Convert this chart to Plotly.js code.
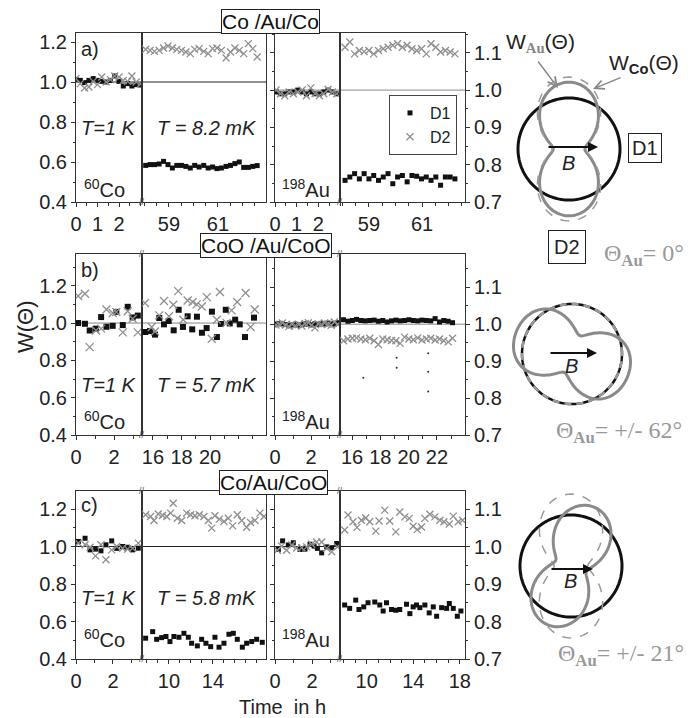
<!DOCTYPE html>
<html>
<head>
<meta charset="utf-8">
<script src="https://cdn.plot.ly/plotly-3.0.1.min.js"></script>
<style>html,body{margin:0;padding:0;background:#fff;}#chart{width:697px;height:718px;}</style>
</head>
<body>
<div id="chart"></div>
<script>
// ================= DATA =================
// ---- row a) Co /Au/Co ----
const aCo1K_t  = [0,0.2,0.4,0.6,0.8,1.0,1.2,1.4,1.6,1.8,2.0,2.2,2.4,2.6,2.8,3.0];
const aCo1K_D1 = [1.013,1.008,0.997,1.008,1.017,1.008,1.003,1.0,1.008,1.03,1.003,0.98,0.992,0.98,0.987,0.985];
const aCo1K_D2 = [1.017,0.992,0.97,0.975,1.003,0.987,1.025,1.0,1.012,1.03,1.025,1.008,1.003,1.03,1.0,0.99];
const aComK_t  = [58.05,58.23,58.41,58.6,58.78,58.96,59.14,59.32,59.51,59.69,59.87,60.05,60.23,60.42,60.6,60.78,60.96,61.14,61.33,61.51,61.69,61.87,62.05,62.24,62.42,62.6];
const aComK_D1 = [0.583,0.587,0.587,0.59,0.603,0.587,0.57,0.583,0.583,0.578,0.57,0.583,0.575,0.583,0.57,0.575,0.567,0.57,0.578,0.583,0.592,0.6,0.573,0.573,0.578,0.582];
const aComK_D2 = [1.163,1.158,1.153,1.158,1.17,1.18,1.17,1.163,1.158,1.15,1.142,1.163,1.167,1.153,1.142,1.167,1.17,1.158,1.12,1.15,1.17,1.158,1.142,1.192,1.167,1.125];
const aAu1K_t  = [0.05,0.25,0.45,0.65,0.85,1.05,1.25,1.45,1.65,1.85,2.05,2.25,2.45,2.65,2.85];
const aAu1K_D1 = [0.995,0.99,0.99,0.995,0.995,1.0,0.995,0.99,0.995,0.99,0.99,0.995,1.0,0.995,0.99];
const aAu1K_D2 = [1.0,0.99,0.985,0.995,0.99,0.995,1.0,0.985,1.006,0.99,0.985,0.99,1.002,0.995,0.99];
const aAumK_t  = [58.10,58.28,58.46,58.64,58.82,59.00,59.18,59.36,59.54,59.72,59.90,60.08,60.26,60.44,60.62,60.80,60.98,61.16,61.34,61.52,61.70,61.88,62.06,62.24];
const aAumK_D1 = [0.758,0.767,0.776,0.762,0.776,0.762,0.771,0.758,0.767,0.776,0.749,0.767,0.771,0.754,0.771,0.769,0.762,0.767,0.758,0.767,0.745,0.767,0.767,0.762];
const aAumK_D2 = [1.115,1.129,1.097,1.106,1.103,1.106,1.097,1.106,1.111,1.115,1.12,1.124,1.115,1.12,1.111,1.106,1.111,1.097,1.124,1.115,1.102,1.106,1.102,1.097];

// ---- row b) CoO /Au/CoO ----
const bCo1K_t  = [0.11,0.47,0.72,1.05,1.32,1.6,1.93,2.12,2.46,2.72,2.98,3.25];
const bCo1K_D1 = [1.0,0.996,0.96,0.97,1.032,0.98,0.985,1.06,0.989,1.087,1.03,1.04];
const bCo1K_D2 = [1.145,1.157,0.871,0.96,0.97,1.073,1.054,1.059,0.95,1.063,1.023,0.95];
const bComK_t1 = [15.46,15.79,16.14,16.44,16.77,17.1,17.45,17.8,18.1,18.43,18.75,19.08,19.43,19.76,20.13,20.48,20.76,21.1,21.38,21.76,22.08,22.45,23.08];
const bComK_D1 = [0.952,0.957,0.938,1.027,0.993,1.011,0.961,1.071,0.979,1.036,0.966,1.034,0.948,0.973,1.061,0.925,0.995,1.071,0.998,1.018,0.993,0.925,1.029];
const bComK_t2 = [15.44,15.91,16.14,16.44,16.77,17.12,17.42,17.77,18.12,18.43,18.78,19.06,19.42,19.77,20.12,20.47,20.69,21.16,21.51,21.9,22.49,22.84,23.13];
const bComK_D2 = [1.107,0.979,0.955,1.041,1.118,1.036,1.098,1.171,1.018,1.121,1.113,1.1,1.089,1.139,0.916,1.018,1.166,1.0,1.068,1.113,1.161,0.979,1.073];
const bAu1K_t  = [0.05,0.23,0.41,0.59,0.77,0.95,1.13,1.31,1.49,1.67,1.85,2.03,2.21,2.39,2.57,2.75,2.93,3.11,3.29,3.47];
const bAu1K_D1 = [1.0,1.002,1.001,0.999,0.996,0.998,1.0,0.997,0.999,1.001,1.0,0.998,1.001,0.999,1.002,1.0,1.003,1.001,1.0,1.004];
const bAu1K_D2 = [0.998,1.0,1.003,0.998,0.994,1.0,0.996,0.999,0.995,1.002,1.004,0.998,0.99,1.001,0.999,1.003,1.0,0.997,1.006,1.0];
const bAumK_t  = [15.4,15.71,16.02,16.32,16.63,16.94,17.25,17.56,17.86,18.17,18.48,18.79,19.1,19.4,19.71,20.02,20.33,20.64,20.94,21.25,21.56,21.87,22.18,22.48,22.79,23.1];
const bAumK_D1 = [1.012,1.008,1.01,1.013,1.01,1.009,1.01,1.011,1.008,1.01,1.006,1.009,1.011,1.009,1.01,1.012,1.01,1.009,1.011,1.01,1.009,1.015,1.006,1.01,1.008,1.004];
const bAumK_D2 = [0.955,0.96,0.962,0.963,0.96,0.958,0.962,0.955,0.945,0.96,0.958,0.956,0.955,0.948,0.965,0.96,0.958,0.963,0.957,0.96,0.962,0.957,0.96,0.955,0.952,0.962];
const bAumK_dots_t = [16.8,19.15,19.15,21.38,21.38,21.38];
const bAumK_dots_v = [0.855,0.909,0.882,0.921,0.871,0.818];

// ---- row c) Co/Au/CoO ----
const cCo1K_t  = [0.13,0.49,0.76,1.06,1.35,1.62,1.93,2.2,2.52,2.79,3.06,3.37];
const cCo1K_D1 = [1.027,1.044,0.982,0.986,0.977,1.009,1.03,0.99,1.0,0.996,0.982,0.991];
const cCo1K_D2 = [1.018,1.009,0.996,0.95,1.009,0.929,0.982,1.0,0.991,0.986,0.991,1.018];
const cComK_t1 = [7.88,8.52,8.88,9.33,9.73,10.09,10.45,10.91,11.36,11.76,12.06,12.58,12.97,13.36,13.79,14.18,14.55,15.0,15.45,15.85,16.21,16.67,17.06,17.52,17.97,18.48];
const cComK_D1 = [0.511,0.546,0.505,0.514,0.52,0.493,0.52,0.516,0.537,0.516,0.484,0.47,0.505,0.484,0.466,0.516,0.463,0.484,0.532,0.537,0.505,0.463,0.484,0.493,0.505,0.489];
const cComK_t2 = [7.88,8.33,8.64,9.03,9.42,9.79,10.15,10.39,10.76,11.15,11.61,11.97,12.36,12.76,13.18,13.58,13.88,14.18,14.58,15.0,15.39,15.79,16.21,16.61,17.06,17.42,17.82,18.27,18.64];
const cComK_D2 = [1.169,1.16,1.139,1.173,1.165,1.16,1.178,1.231,1.151,1.139,1.178,1.169,1.164,1.169,1.16,1.139,1.098,1.164,1.146,1.133,1.151,1.11,1.169,1.139,1.103,1.128,1.139,1.178,1.16];
const cAu1K_t1 = [0.18,0.41,0.72,0.99,1.35,1.62,1.89,2.11,2.29,2.52,2.79,3.06,3.33];
const cAu1K_D1 = [0.992,1.015,1.004,1.01,0.992,0.993,1.006,1.001,0.995,0.983,0.999,0.997,1.008];
const cAu1K_t2 = [0.13,0.36,0.63,0.9,1.17,1.44,1.71,1.98,2.25,2.52,2.79,3.06,3.37];
const cAu1K_D2 = [0.99,1.001,0.99,1.004,0.996,0.997,0.999,1.006,1.012,1.012,0.995,0.986,0.999];
const cAumK_t1 = [8.1,8.53,9.05,9.33,9.74,10.11,10.69,11.12,11.41,11.7,12.13,12.5,12.84,13.42,13.71,13.99,14.28,14.57,15.0,15.37,15.72,16.01,16.44,16.87,17.1,17.44,17.79,18.1];
const cAumK_D1 = [0.844,0.835,0.857,0.832,0.839,0.85,0.852,0.844,0.828,0.85,0.832,0.83,0.832,0.846,0.821,0.839,0.844,0.837,0.844,0.823,0.839,0.814,0.837,0.835,0.848,0.835,0.814,0.828];
const cAumK_t2 = [8.1,8.39,8.82,9.16,9.54,9.91,10.26,10.78,11.06,11.55,11.98,12.5,12.84,13.28,13.65,13.99,14.34,14.71,15.0,15.43,15.86,16.29,16.64,17.1,17.44,17.87,18.25];
const cAumK_D2 = [1.044,1.084,1.066,1.051,1.07,1.076,1.066,1.041,1.068,1.097,1.068,1.039,1.092,1.079,1.075,1.054,1.045,1.052,1.075,1.086,1.079,1.07,1.066,1.06,1.081,1.066,1.07];

// ---- angular distributions W(Θ) (c0, c2, c4, rotation in degrees) ----
const polarAngles = [];
for (let a = 0; a <= 360; a += 2) polarAngles.push(a);
const wA_Au = [0.81, -0.50, 0, 0];
const wA_Co = [0.87, -0.54, 0, 0];
const wB_Au = [0.87, 0.40, -0.07, -23];
const wC_Au = [0.78, -0.46, 0, -21];
const wC_Co = [0.87, -0.54, 0, 0];

// ---- labels ----
const rowTitles = ['Co /Au/Co', 'CoO /Au/CoO', 'Co/Au/CoO'];
const rowLetters = ['a)', 'b)', 'c)'];
const lowTemps = ['T = 8.2 mK', 'T = 5.7 mK', 'T = 5.8 mK'];
const thetaLabels = ['0°', '+/- 62°', '+/- 21°'];
const xTickVals = [
  [[0,1,2],[59,61],[0,1,2],[59,61]],
  [[0,2],[16,18,20],[0,2],[16,18,20,22]],
  [[0,2],[10,14],[0,2],[10,14,18]]
];

// ================= FIGURE =================
const FONT = 'Liberation Sans, Arial, sans-serif';
const SERIF = 'Liberation Serif, Times New Roman, serif';
const W = 697, H = 718;
const px = v => v / W, py = v => 1 - v / H;

const rowTop = [33, 254, 491], rowBot = [202, 435, 659];
const colX = [[76,142],[142,266],[275,340],[340,465]];
const leftRange = [[0.4,1.245],[0.4,1.37],[0.4,1.296]];
const rightRange = [[0.7,1.153],[0.7,1.19],[0.7,1.148]];
const xRanges = [
  [[0,3.07],[57.9,62.96],[0,3.0],[57.91,62.62]],
  [[0,3.47],[15.23,23.92],[0,3.6],[15.15,23.98]],
  [[0,3.57],[7.55,18.82],[0,3.51],[7.7,18.45]]
];
const xMinor = [[0.5,0.5,0.5,0.5],[1,1,1,1],[1,1,1,1]];
const panels = [
  [[aCo1K_t,aCo1K_D1,aCo1K_t,aCo1K_D2],[aComK_t,aComK_D1,aComK_t,aComK_D2],[aAu1K_t,aAu1K_D1,aAu1K_t,aAu1K_D2],[aAumK_t,aAumK_D1,aAumK_t,aAumK_D2]],
  [[bCo1K_t,bCo1K_D1,bCo1K_t,bCo1K_D2],[bComK_t1,bComK_D1,bComK_t2,bComK_D2],[bAu1K_t,bAu1K_D1,bAu1K_t,bAu1K_D2],[bAumK_t,bAumK_D1,bAumK_t,bAumK_D2]],
  [[cCo1K_t,cCo1K_D1,cCo1K_t,cCo1K_D2],[cComK_t1,cComK_D1,cComK_t2,cComK_D2],[cAu1K_t1,cAu1K_D1,cAu1K_t2,cAu1K_D2],[cAumK_t1,cAumK_D1,cAumK_t2,cAumK_D2]]
];

const LINE = '#333', D2C = '#8f8f8f';
const tickFont = {family: FONT, size: 20, color: '#222'};
const layout = {
  width: W, height: H, autosize: false,
  margin: {l:0, r:0, t:0, b:0},
  paper_bgcolor: '#fff', plot_bgcolor: 'rgba(0,0,0,0)',
  font: {family: FONT, size: 20, color: '#222'},
  showlegend: true,
  legend: {x: px(389), y: py(95), xanchor: 'left', yanchor: 'top', bordercolor: '#444', borderwidth: 1,
           bgcolor: '#fff', font: {size: 16, family: FONT, color: '#222'}, tracegroupgap: 0, itemwidth: 30},
  annotations: [], shapes: []
};
const traces = [];

for (let r = 0; r < 3; r++) {
  for (let c = 0; c < 4; c++) {
    const k = r * 4 + c + 1;
    const xid = k === 1 ? 'x' : 'x' + k, yid = k === 1 ? 'y' : 'y' + k;
    const xa = {
      domain: [px(colX[c][0]), px(colX[c][1])], range: xRanges[r][c], anchor: yid,
      showline: true, mirror: true, linecolor: LINE, linewidth: 1,
      tickmode: 'array', tickvals: xTickVals[r][c],
      ticks: 'outside', ticklen: 4, tickcolor: LINE, tickfont: tickFont,
      showgrid: false, zeroline: false,
      minor: {ticks: 'outside', ticklen: 3, dtick: xMinor[r][c], tick0: 0, tickcolor: LINE, showgrid: false}
    };
    const ya = {
      domain: [py(rowBot[r]), py(rowTop[r])], range: c < 2 ? leftRange[r] : rightRange[r], anchor: xid,
      showline: true, mirror: true, linecolor: LINE, linewidth: 1,
      showgrid: false, zeroline: false, tickfont: tickFont, tickcolor: LINE
    };
    if (c === 0) Object.assign(ya, {side: 'left', ticks: 'outside', ticklen: 4, tick0: 0.4, dtick: 0.2, tickformat: '.1f',
      minor: {ticks: 'outside', ticklen: 2, dtick: 0.1, tick0: 0.4, tickcolor: LINE}});
    if (c === 1) Object.assign(ya, {ticks: '', showticklabels: false});
    if (c === 2) Object.assign(ya, {side: 'left', ticks: 'outside', ticklen: 4, tick0: 0.7, dtick: 0.1, showticklabels: false,
      minor: {ticks: 'outside', ticklen: 2, dtick: 0.05, tick0: 0.7, tickcolor: LINE}});
    if (c === 3) Object.assign(ya, {side: 'right', ticks: 'outside', ticklen: 4, tick0: 0.7, dtick: 0.1, tickformat: '.1f',
      minor: {ticks: 'outside', ticklen: 2, dtick: 0.05, tick0: 0.7, tickcolor: LINE}});
    layout[k === 1 ? 'xaxis' : 'xaxis' + k] = xa;
    layout[k === 1 ? 'yaxis' : 'yaxis' + k] = ya;

    const p = panels[r][c];
    const big = (r === 1 && c < 2);
    const leg = (r === 0 && c === 3);
    traces.push({type: 'scatter', mode: 'markers', x: p[0], y: p[1], xaxis: xid, yaxis: yid, name: 'D1',
      legendgroup: 'D1', showlegend: leg, cliponaxis: true,
      marker: {symbol: 'square', size: big ? 6 : 5, color: '#111'}});
    traces.push({type: 'scatter', mode: 'markers', x: p[2], y: p[3], xaxis: xid, yaxis: yid, name: 'D2',
      legendgroup: 'D2', showlegend: leg, cliponaxis: true,
      marker: {symbol: 'x-thin', size: big ? 8 : 7, color: D2C, line: {width: 1.3, color: D2C}}});
    if (r === 1 && c === 3) {
      traces.push({type: 'scatter', mode: 'markers', x: bAumK_dots_t, y: bAumK_dots_v, xaxis: xid, yaxis: yid,
        showlegend: false, hoverinfo: 'skip', marker: {size: 2, color: '#333'}});
    }
  }
  // reference lines at W = 1
  const lc = r === 0 ? ['#222', '#888'] : (r === 1 ? ['#888', '#888'] : ['#222', '#222']);
  const yL = r === 0 ? 'y' : 'y' + (r * 4 + 1), yR = 'y' + (r * 4 + 3);
  layout.shapes.push({type: 'line', layer: 'below', xref: 'paper', yref: yL, x0: px(76), x1: px(266), y0: 1, y1: 1, line: {color: lc[0], width: 1}});
  layout.shapes.push({type: 'line', layer: 'below', xref: 'paper', yref: yR, x0: px(275), x1: px(465), y0: 1, y1: 1, line: {color: lc[1], width: 1}});
}

// ---- polar diagrams ----
const polarCenters = [[569,149,51],[572,354,50],[571,566,51]];
polarCenters.forEach((pc, i) => {
  const key = i === 0 ? 'polar' : 'polar' + (i + 1);
  const half = 80;
  layout[key] = {
    domain: {x: [px(pc[0] - half), px(pc[0] + half)], y: [py(pc[1] + half), py(pc[1] - half)]},
    bgcolor: 'rgba(0,0,0,0)',
    radialaxis: {visible: false, range: [0, half / pc[2]], showgrid: false},
    angularaxis: {visible: false, showgrid: false, rotation: 0, direction: 'counterclockwise'}
  };
});
const wCurve = cf => polarAngles.map(a => {
  const d = (a - cf[3]) * Math.PI / 180;
  return cf[0] + cf[1] * Math.cos(2 * d) + cf[2] * Math.cos(4 * d);
});
const unit = polarAngles.map(() => 1);
function pol(sub, r, line) {
  traces.push({type: 'scatterpolar', mode: 'lines', subplot: sub, theta: polarAngles, r: r, line: line,
    showlegend: false, hoverinfo: 'skip'});
}
// row a
pol('polar', unit, {color: '#111', width: 3});
pol('polar', wCurve(wA_Au), {color: '#8a8a8a', width: 3});
pol('polar', wCurve(wA_Co), {color: '#9a9a9a', width: 1.5, dash: 'dash'});
// row b
pol('polar2', unit, {color: '#111', width: 2.5});
pol('polar2', unit, {color: '#999', width: 2.5, dash: '7px,5px'});
pol('polar2', wCurve(wB_Au), {color: '#8a8a8a', width: 3});
// row c
pol('polar3', unit, {color: '#111', width: 3});
pol('polar3', wCurve(wC_Co), {color: '#9a9a9a', width: 1.5, dash: 'dash'});
pol('polar3', wCurve(wC_Au), {color: '#8a8a8a', width: 3});

// ---- annotations ----
const A = layout.annotations;
const txt = (text, x, y, o) => A.push(Object.assign({text: text, x: px(x), y: py(y), xref: 'paper', yref: 'paper',
  xanchor: 'center', yanchor: 'middle', showarrow: false, font: {family: FONT, size: 20, color: '#222'}}, o || {}));

const titleX = [270, 266, 273], titleY = [22, 246, 483];
const letterY = [49, 270, 505];
const tY = [128, 385, 598];
const isoBottom = [203, 435, 653];
for (let r = 0; r < 3; r++) {
  txt(rowTitles[r], titleX[r], titleY[r], {font: {family: FONT, size: 21, color: '#111'}, bordercolor: '#222',
    borderwidth: 1, borderpad: 0, bgcolor: '#fff'});
  txt(rowLetters[r], 79, letterY[r], {xanchor: 'left'});
  txt('<i>T=1 K</i>', 109, tY[r]);
  txt('<i>' + lowTemps[r] + '</i>', 207, tY[r]);
  txt('<sup>60</sup>Co', 104, isoBottom[r], {yanchor: 'bottom'});
  txt('<sup>198</sup>Au', 306, isoBottom[r], {yanchor: 'bottom'});
  // axis break marks
  [142, 340].forEach(bx => {
    txt('//', bx, rowBot[r], {font: {family: FONT, size: 9, color: '#555'}});
    if (r > 0) txt('//', bx, rowTop[r], {font: {family: FONT, size: 9, color: '#555'}});
  });
}
txt('W(Θ)', 25, 327, {textangle: -90, font: {family: FONT, size: 22, color: '#222'}});
txt('Time\u00a0 in h', 282, 707);

// right-hand drawings
txt('W<sub><span style="color:#888;font-family:Liberation Serif"><b>Au</b></span></sub>(Θ)', 504, 28, {xanchor: 'left', yanchor: 'top', font: {family: FONT, size: 21, color: '#222'}});
txt('W<sub><b>Co</b></sub>(Θ)', 607, 49, {xanchor: 'left', yanchor: 'top', font: {family: FONT, size: 21, color: '#222'}});
A.push({x: px(558), y: py(88), xref: 'paper', yref: 'paper', ax: -21, ay: -28, text: '', showarrow: true,
  arrowhead: 5, arrowsize: 1.2, arrowwidth: 1.5, arrowcolor: '#888'});
A.push({x: px(593), y: py(89), xref: 'paper', yref: 'paper', ax: 29, ay: -12, text: '', showarrow: true,
  arrowhead: 5, arrowsize: 1.2, arrowwidth: 1.5, arrowcolor: '#888'});
txt('D1', 645, 148, {bordercolor: '#222', borderwidth: 1, borderpad: 3, bgcolor: '#fff'});
txt('D2', 567, 247, {bordercolor: '#222', borderwidth: 1, borderpad: 5, bgcolor: '#fff'});
const bArrows = [[547,598,147,568,163],[549,597,353,571,366],[550,593,569,570,581]];
bArrows.forEach(b => {
  A.push({x: px(b[1]), y: py(b[2]), xref: 'paper', yref: 'paper', ax: b[0] - b[1], ay: 0, text: '', showarrow: true,
    arrowhead: 2, arrowsize: 1, arrowwidth: 2, arrowcolor: '#111'});
  txt('<i>B</i>', b[3], b[4]);
});
const thX = [644, 619, 621], thY = [255, 432, 655];
for (let i = 0; i < 3; i++) {
  txt('Θ<sub><b>Au</b></sub>= ' + thetaLabels[i], thX[i], thY[i], {font: {family: SERIF, size: 24, color: '#999'}});
}

Plotly.newPlot('chart', traces, layout, {staticPlot: true, displayModeBar: false});
</script>
</body>
</html>
